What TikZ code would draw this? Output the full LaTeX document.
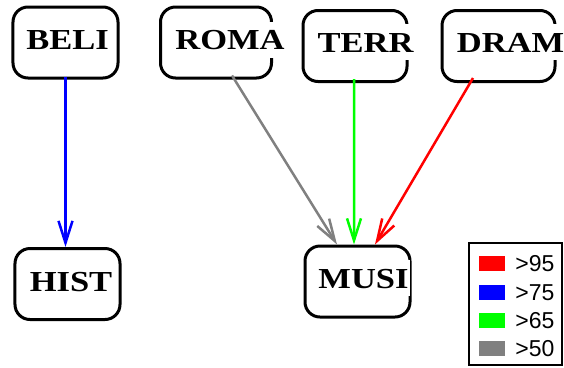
\documentclass[tikz,border=0pt]{standalone}
\usepackage{fontspec}
\setmainfont{Liberation Serif}
\setsansfont{Liberation Sans}
\usetikzlibrary{arrows.meta}
\definecolor{edgegray}{RGB}{128,128,128}
\begin{document}
\begin{tikzpicture}[x=1bp,y=-1bp,
  box/.style={draw=black, line width=3bp, rounded corners=15bp,
    minimum height=71bp, inner sep=0pt},
  lbl/.style={fill=white, inner xsep=1bp, inner ysep=0pt,
    text height=28bp, text depth=8bp,
    font=\fontsize{29bp}{32bp}\selectfont\bfseries, xscale=1.19},
  link/.style={line width=2.5bp, -{Straight Barb[length=22bp,width=14bp,line width=2.5bp]}},
  swatch/.style={minimum width=26bp, minimum height=15bp, inner sep=0pt},
  legtext/.style={anchor=base west, inner sep=0pt,
    font=\sffamily\fontsize{23bp}{25bp}\selectfont}
]
\useasboundingbox (0,0) rectangle (564,367);

% boxes
\node[box, minimum width=105bp] (beli) at (65.5,42.5) {};
\node[box, minimum width=111bp] (roma) at (216,42.5) {};
\node[box, minimum width=104bp] (terr) at (355,46) {};
\node[box, minimum width=113bp] (dram) at (498.5,46) {};
\node[box, minimum width=105bp] (hist) at (67.5,284) {};
\node[box, minimum width=105bp] (musi) at (357.5,281.5) {};

% labels (white backing cuts the frame where a label runs over it)
\node[lbl, anchor=base] (beli-t) at (67.5,49.5) {BELI};
\node[lbl, anchor=base] (roma-t) at (230,49.5) {ROMA};
\node[lbl, anchor=base] (terr-t) at (365.5,52) {TERR};
\node[lbl, anchor=base] (dram-t) at (510.5,52) {DRAM};
\node[lbl, anchor=base] (hist-t) at (71,291) {HIST};
\node[lbl, anchor=base] (musi-t) at (363.5,288) {MUSI};

% links
\draw[link, blue] ([yshift=3bp]beli.south) -- (hist.north -| beli.south);
\draw[link, edgegray] ([xshift=16bp,yshift=4bp]roma.south) -- ([xshift=-20.5bp]musi.north);
\draw[link, green] ([xshift=-1bp,yshift=4bp]terr.south) -- ([xshift=-3.5bp]musi.north);
\draw[link, red] ([xshift=-25.5bp,yshift=5bp]dram.south) -- ([xshift=17.5bp]musi.north);

% legend
\node[draw=black, line width=1.4bp, minimum width=93bp, minimum height=122bp,
  inner sep=0pt] (legend) at (515.5,304) {};
\foreach \c/\t/\y [count=\i] in {red/>95/263.5, blue/>75/292.5, green/>65/320.5, edgegray/>50/348} {
  \node[swatch, fill=\c] (sw\i) at (492,\y) {};
  \node[legtext] (lt\i) at ([xshift=10bp,yshift=-8bp]sw\i.east) {\t};
}
\end{tikzpicture}
\end{document}
